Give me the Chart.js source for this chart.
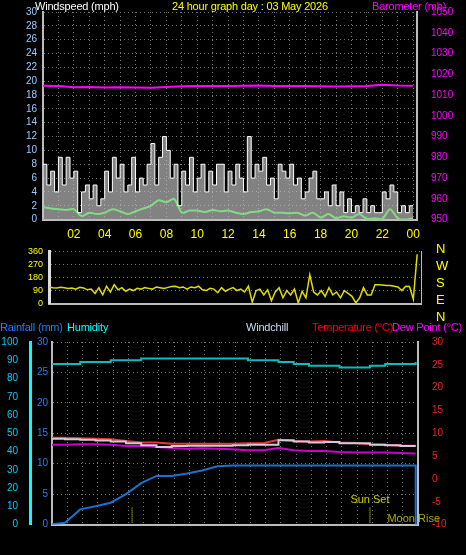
<!DOCTYPE html>
<html><head><meta charset="utf-8">
<script src="https://cdn.jsdelivr.net/npm/chart.js@4/dist/chart.umd.min.js"></script>
<style>
body{margin:0;background:#000;width:466px;height:555px;overflow:hidden;position:relative;font-family:"Liberation Sans",Arial,sans-serif}
canvas{position:absolute}
.t{position:absolute;font-size:11px;letter-spacing:-0.2px;white-space:nowrap;line-height:12px}
</style></head><body>
<canvas id="c1" width="466" height="250" style="left:0;top:0"></canvas>
<canvas id="c2" width="466" height="75" style="left:0;top:240px"></canvas>
<canvas id="c3" width="466" height="225" style="left:0;top:330px"></canvas>
<div class="t" style="left:35px;top:0;color:#fff">Windspeed (mph)</div>
<div class="t" style="left:172px;top:0;color:#ff0">24 hour graph day : 03 May 2026</div>
<div class="t" style="left:372px;top:0;color:#f0f">Barometer (mb)</div>
<div class="t" style="left:436px;top:240px;color:#ff0;font-size:13px;line-height:17px">N<br>W<br>S<br>E<br>N</div>
<div class="t" style="left:0;top:321px;color:#1e7fff">Rainfall (mm)</div>
<div class="t" style="left:67px;top:321px;color:#0ff">Humidity</div>
<div class="t" style="left:246px;top:321px;color:#cde">Windchill</div>
<div class="t" style="left:312px;top:321px;color:#f00">Temperature (°C)</div>
<div class="t" style="left:392px;top:321px;color:#f0f">Dew Point (°C)</div>
<script>
const hourLabels=['','02','04','06','08','10','12','14','16','18','20','22','00'];
const windGust=[8,5,7,4,9,5,9,6, 7,1,4,5,3,5,2,3, 7,4,9,6,8,4,5,9, 4,6,5,8,11,5,9,12,
 10,6,8,2,7,5,9,4, 6,8,4,7,5,8,8,4, 7,5,8,6,4,12,6,8, 7,9,5,6,3,8,7,6,
 8,5,6,3,4,6,7,3, 3,4,2,5,2,4,1,3, 1,2,1,3,1,2,1,1, 4,3,5,4,1,2,1,2,2];
const windAvg=[1.8,1.6,1.5,1.4,1.5,0.5,1.0,0.8,1.0,1.5,1.2,0.8,1.2,1.6,2.0,2.8,2.5,3.0,1.0,1.3,1.3,1.1,1.4,1.2,1.3,1.0,0.8,1.1,1.2,1.5,1.0,1.0,0.9,1.0,0.6,1.0,0.3,0.8,0.2,0.5,0.3,0.8,0.1,0.2,0.1,1.5,0.2,0,0.2];
const baro=[1014.5,1014.3,1013.8,1013.9,1013.6,1013.7,1013.6,1013.5,1013.9,1014.2,1014.3,1014.3,1014.4,1014.5,1014.6,1014.4,1014.3,1014.3,1014.2,1014.1,1014.2,1014.4,1014.9,1014.6,1014.5];
const windDir=[115,110,108,112,110,105,108,100,112,108,95,100, 70,110,60,120,80,130,95,110,85,100,90,105,
 100,110,105,100,115,110,105,112,118,120,110,115, 100,115,110,120,95,90,105,100,75,110,85,100,
 110,90,100,80,120,10,90,100,60,95,20,80, 110,40,90,60,100,5,85,40,200,80,60,90,
 50,110,60,80,40,90,70,50,5,40,110,60, 60,130,130,128,125,125,120,115,90,120,118,30,340];
const humidity=[88,88,89,89,90,90,91,91,91,91,91,91,91,90,90,89,88,87,87,86,86,87,88,88,89];
const temperature=[9,9,8.9,8.8,8.7,8.3,8,8,7.7,7.7,7.7,7.7,7.7,7.8,7.8,8.6,8.3,8.2,8.3,8.0,7.9,7.6,7.5,7.3,7.3];
const dewPoint=[7.5,7.5,7.6,7.6,7.5,7.2,7.2,7,6.8,6.6,6.7,6.6,6.5,6.3,6.3,6.8,6.3,6.1,6.1,5.9,5.8,5.8,5.8,5.7,5.6];
const windChill=[8.8,8.7,8.6,8.4,8.2,7.8,7.4,7.0,7.2,7.3,7.3,7.3,7.4,7.5,7.5,8.5,8.2,8.0,8.1,7.8,7.8,7.5,7.4,7.2,7.2];
const rainfall=[0,0.3,2.5,3,3.6,5,6.8,8,8,8.4,8.9,9.6,9.7,9.7,9.7,9.7,9.7,9.7,9.7,9.7,9.7,9.7,9.7,9.7,9.7];
const sunMarks=[[5.4,''],[21,'Sun Set']];

const pts=(arr,step)=>arr.map((v,i)=>({x:i*step,y:v}));
const grid={color:'#777',drawTicks:false};
const bord=(c,w)=>({color:c,width:w,dash:[1,3]});
const font={family:'Liberation Sans',size:10};
function xAxis(show){return {type:'linear',min:0,max:24.25,
  grid:{...grid},border:bord('#bbb',2),
  ticks:{display:show,stepSize:1,includeBounds:false,autoSkip:false,maxRotation:0,minRotation:0,color:'#ff0',font:{family:'Liberation Sans',size:12},padding:8,
    callback:v=>(Number.isInteger(v)&&v%2===0)?hourLabels[v/2]:''}};}
const fixW=w=>s=>{s.width=w;};
const plain=v=>String(v);
Chart.defaults.animation=false;
Chart.defaults.responsive=false;

new Chart(c1,{type:'line',data:{datasets:[
 {data:pts(windGust,0.25),borderColor:'#fff',borderWidth:1,stepped:true,pointRadius:0,fill:'origin',backgroundColor:'rgba(200,200,200,0.65)',yAxisID:'y'},
 {data:pts(windAvg,0.5),borderColor:'#0f0',borderWidth:2,pointRadius:0,tension:0.3,yAxisID:'y'},
 {data:pts(baro,1),borderColor:'#f0f',borderWidth:2,pointRadius:0,yAxisID:'y2'}]},
 options:{plugins:{legend:{display:false},tooltip:{enabled:false}},layout:{padding:{top:12}},
 scales:{x:xAxis(true),
  y:{min:0,max:30,afterFit:fixW(43),grid:{...grid},border:bord('#bbb',2),ticks:{stepSize:2,autoSkip:false,color:'#9cf',font,padding:6}},
  y2:{position:'right',min:950,max:1050,afterFit:fixW(49),grid:{display:false},border:{color:'#bbb',width:2},ticks:{stepSize:10,autoSkip:false,color:'#f0f',font,padding:6,callback:plain}}}}});

new Chart(c2,{type:'line',data:{datasets:[
 {data:pts(windDir,0.25),borderColor:'#dd0',borderWidth:1.5,pointRadius:0,yAxisID:'y'}]},
 options:{plugins:{legend:{display:false},tooltip:{enabled:false}},layout:{padding:{top:6,bottom:4}},
 scales:{x:{...xAxis(false),ticks:{display:false,stepSize:90}},
  y:{min:0,max:360,afterFit:fixW(49),grid:{...grid},border:{...bord('#ddd',3)},ticks:{stepSize:90,autoSkip:false,color:'#ff0',font:{family:'Liberation Sans',size:9},padding:6}},
  y2:{position:'right',min:0,max:360,afterFit:fixW(45),grid:{display:false},border:{color:'#bbb',width:1},ticks:{display:false}}}}});

const markers={id:'markers',afterDatasetsDraw(ch){const c=ch.ctx,x=ch.scales.x,a=ch.chartArea;c.save();
 c.strokeStyle='#ff0';c.setLineDash([1,1]);c.fillStyle='#cc0';c.font='11px Liberation Sans';
 sunMarks.forEach(([h,t])=>{const px=x.getPixelForValue(h);c.beginPath();c.moveTo(px,a.bottom-2);c.lineTo(px,a.bottom-18);c.stroke();
  if(t){c.textAlign='center';c.fillText(t,px,a.bottom-22);}});
 c.fillStyle='#aa0';c.textAlign='right';c.fillText('Moon Rise',a.right+22,a.bottom-3);c.restore();}};

new Chart(c3,{type:'line',data:{datasets:[
 {data:pts(humidity,1),borderColor:'#1bb',borderWidth:2,pointRadius:0,stepped:true,yAxisID:'yh'},
 {data:pts(rainfall,1).concat([{x:24,y:0}]),borderColor:'#1e6fd0',borderWidth:2,pointRadius:0,yAxisID:'yr'},
 {data:pts(windChill,1),borderColor:'#ccd',borderWidth:2,pointRadius:0,stepped:true,yAxisID:'yt'},
 {data:pts(dewPoint,1),borderColor:'#c0c',borderWidth:2,pointRadius:0,yAxisID:'yt'},
 {data:pts(temperature,1),borderColor:'#e33',borderWidth:2,pointRadius:0,yAxisID:'yt'}]},
 options:{plugins:{legend:{display:false},tooltip:{enabled:false}},layout:{padding:{top:12}},
 scales:{x:{...xAxis(true),min:0.15,max:24.15},
  yr:{position:'left',min:0,max:30,afterFit:fixW(22),grid:{...grid},border:bord('#bbb',2),ticks:{stepSize:5,autoSkip:false,color:'#1e7fff',font,padding:4}},
  yh:{position:'left',min:0,max:100,afterFit:fixW(30),grid:{display:false},border:{color:'#0ff',width:3},ticks:{stepSize:10,autoSkip:false,color:'#0cf',font,padding:4}},
  yt:{position:'right',min:-10,max:30,afterFit:fixW(48),grid:{display:false},border:{color:'#bbb',width:2},ticks:{stepSize:5,autoSkip:false,color:'#e22',font,padding:6}}}},
 plugins:[markers]});
</script></body></html>
